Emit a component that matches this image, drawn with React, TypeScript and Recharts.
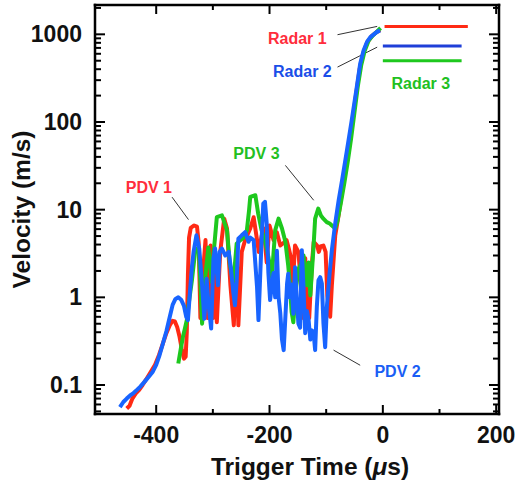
import { LineChart, Line, XAxis, YAxis, ReferenceLine, ReferenceDot } from 'recharts';

// trigger time (us), velocity (m/s)
const pdv1: [number, number][] = [
  [-452, 0.054], [-447, 0.058], [-442, 0.07], [-436, 0.08], [-430, 0.088], [-424, 0.1], [-418, 0.115],
  [-410, 0.14], [-402, 0.17], [-395, 0.22], [-388, 0.3], [-382, 0.39], [-376, 0.48], [-371, 0.54],
  [-367, 0.53], [-363, 0.46], [-359, 0.36], [-355, 0.26], [-351, 0.2], [-348, 0.21], [-346, 0.4],
  [-344, 1.8], [-342, 4.8], [-339, 6.2], [-333, 6.6], [-328, 6.4], [-325, 4.2], [-322, 0.58],
  [-319, 1.37], [-313, 4.5], [-309, 0.58], [-304, 3.9], [-300, 0.58], [-296, 2.1], [-293, 0.52],
  [-287, 3.3], [-280, 7.9], [-275, 6.1], [-269, 1.37], [-263, 0.48], [-258, 3.3], [-255, 0.48],
  [-249, 3.3], [-243, 4.5], [-234, 6.1], [-228, 8.2], [-222, 4.5], [-219, 3.3], [-214, 5], [-210, 6.1],
  [-205, 2.5], [-200, 6.6], [-193, 4.5], [-187, 5.5], [-181, 3.9], [-175, 4.2], [-170, 4.5], [-166, 3.6],
  [-162, 2.8], [-159, 1.37], [-155, 3.9], [-149, 3.3], [-143, 1.05], [-140, 0.58], [-137, 2.8],
  [-134, 0.68], [-130, 0.58], [-125, 2.5], [-122, 4.3], [-116, 3.9], [-113, 3.3], [-110, 3.8],
  [-105, 3.9], [-101, 3.3], [-98, 1.05], [-93, 0.6], [-90, 1.37], [-84, 5.1], [-78, 8.7], [-72, 16],
  [-64, 35], [-56, 80], [-48, 190], [-41, 400], [-35, 600], [-28, 800], [-20, 950], [-12, 1050], [-5, 1120],
];

const pdv2: [number, number][] = [
  [-464, 0.056], [-458, 0.064], [-452, 0.07], [-446, 0.076], [-440, 0.081], [-434, 0.088], [-428, 0.096],
  [-420, 0.11], [-412, 0.127], [-406, 0.142], [-400, 0.17], [-394, 0.22], [-388, 0.3], [-382, 0.41],
  [-376, 0.6], [-371, 0.82], [-366, 0.96], [-361, 1.0], [-356, 0.94], [-351, 0.8], [-347, 0.6],
  [-344, 0.55], [-340, 1.26], [-337, 2.2], [-334, 3.3], [-329, 5.1], [-324, 3.6], [-319, 1.37],
  [-315, 0.57], [-311, 1.63], [-308, 0.88], [-303, 0.44], [-299, 2.76], [-296, 3.6], [-291, 1.37],
  [-288, 3.3], [-284, 3.6], [-278, 3.0], [-272, 3.3], [-268, 2.1], [-264, 1.15], [-261, 0.81],
  [-258, 1.5], [-255, 4.66], [-249, 5.1], [-243, 5.55], [-237, 4.3], [-234, 4.8], [-228, 4.5],
  [-222, 1.3], [-219.5, 0.55], [-214, 4.5], [-211, 11.7], [-208, 12.3], [-205, 7], [-202, 1.9],
  [-199, 0.93], [-193, 1.9], [-190, 1.0], [-187, 3.4], [-184, 1.0], [-181, 0.66], [-178, 0.33],
  [-175, 0.25], [-172, 0.6], [-169, 1.44], [-167, 1.86], [-164, 1.0], [-161, 1.4], [-158, 0.65],
  [-155, 2.2], [-152, 1.0], [-149, 0.5], [-146, 0.45], [-143, 3.45], [-140, 1.3], [-137, 0.39],
  [-134, 0.7], [-131, 0.55], [-128, 0.33], [-125, 0.42], [-122, 0.38], [-119.5, 0.25], [-116.5, 0.78],
  [-113.6, 1.57], [-110.6, 1.7], [-107.6, 1.44], [-104.8, 0.5], [-101.8, 0.27], [-98.8, 0.78],
  [-94, 1.87], [-90, 3.45], [-84, 7.0], [-78, 12.8], [-72, 21.6], [-63.5, 47], [-55, 104], [-46, 250],
  [-40, 462], [-34, 655], [-28, 820], [-22, 930], [-11, 1060], [-5, 1110],
];

const pdv3: [number, number][] = [
  [-361, 0.176], [-357, 0.25], [-353, 0.35], [-349, 0.45], [-346, 0.55], [-342, 0.9], [-337, 1.56],
  [-331, 3.44], [-325, 3.7], [-322, 1.5], [-319, 0.5], [-314, 1.56], [-308, 3.7], [-302, 1.5],
  [-299, 3.0], [-293, 8.2], [-284, 8.6], [-275, 5.8], [-270, 2.4], [-264, 1.43], [-258, 4.1],
  [-252, 4.47], [-246, 4.8], [-240, 5.8], [-236, 10], [-234, 14], [-225, 14.6], [-220, 9], [-214, 5.8],
  [-208, 4.47], [-202, 2.9], [-196, 1.7], [-190, 5.8], [-184, 7.9], [-178, 6.1], [-172, 4.3],
  [-167, 2.3], [-164, 1.4], [-161, 0.68], [-158, 0.52], [-153, 1.3], [-149, 2.1], [-143, 2.5],
  [-140, 3.0], [-134, 1.37], [-131, 2.5], [-128, 1.05], [-122.5, 3.6], [-119.5, 7.9], [-114, 10.3],
  [-109, 8.5], [-105, 7.9], [-99, 7.2], [-93, 6.9], [-90, 6.6], [-84, 6.1], [-80, 7.5], [-74, 12],
  [-68, 20], [-62, 35], [-56, 65], [-50, 130], [-44, 260], [-38, 450], [-32, 650], [-25, 850],
  [-17, 980], [-10, 1080], [-4, 1180],
];

const radar1: [number, number][] = [[3, 1230], [150, 1230]];
const radar2: [number, number][] = [[0, 735], [139, 735]];
const radar3: [number, number][] = [[0, 500], [139, 500]];

const xMajor = [-400, -200, 0, 200];
const xMinor = [-300, -100, 100];
const yMajor = [0.1, 1, 10, 100, 1000];
const yMinor = [
  0.05, 0.06, 0.07, 0.08, 0.09, 0.2, 0.3, 0.4, 0.5, 0.6, 0.7, 0.8, 0.9,
  2, 3, 4, 5, 6, 7, 8, 9, 20, 30, 40, 50, 60, 70, 80, 90,
  200, 300, 400, 500, 600, 700, 800, 900, 2000,
];

const RED = '#ff2a14';
const GREEN = '#1ec81e';
const BLUE = '#1864ff';
const RADAR_BLUE = '#1f3fd8';

const notes = [
  { text: 'PDV 1', t: -413, v: 18.2, color: '#ff2d3c' },
  { text: 'PDV 3', t: -223, v: 44, color: '#22c022' },
  { text: 'PDV 2', t: 26, v: 0.143, color: '#1a5ef5' },
  { text: 'Radar 1', t: -151, v: 910, color: '#ff2d3c' },
  { text: 'Radar 2', t: -142, v: 378, color: '#1a4ee8' },
  { text: 'Radar 3', t: 67, v: 275, color: '#22c022' },
];

const leaders: [number, number, number, number][] = [
  [-372, 13.9, -343, 7.7],
  [-172, 32, -122, 12.8],
  [-87, 0.25, -40, 0.168],
  [-80, 990, -10, 1231],
  [-80, 423, -10, 714],
];

const X_DOMAIN: [number, number] = [-508, 205];
const Y_DOMAIN: [number, number] = [0.0467, 2160];
const FONT = "'Liberation Sans', Arial, Helvetica, sans-serif";
const rows = (pts: [number, number][]) => pts.map(([t, v]) => ({ t, v }));
const frame = { stroke: '#000', strokeWidth: 2.5, strokeLinecap: 'square' as const };
const tickText = { fontFamily: FONT, fontSize: 23, fontWeight: 700, fill: '#111' };

function leftTick(p: any) {
  const v = p.payload.value;
  const major = yMajor.includes(v);
  return (
    <g>
      <line x1={p.x} x2={p.x + (major ? 10 : 6)} y1={p.y} y2={p.y} stroke="#000" strokeWidth={2} />
      {major && (
        <text x={p.x - 13} y={p.y + 8} textAnchor="end" style={tickText}>
          {String(v)}
        </text>
      )}
    </g>
  );
}

function rightTick(p: any) {
  const major = yMajor.includes(p.payload.value);
  return <line x1={p.x} x2={p.x - (major ? 10 : 6)} y1={p.y} y2={p.y} stroke="#000" strokeWidth={2} />;
}

function bottomTick(p: any) {
  const v = p.payload.value;
  const major = xMajor.includes(v);
  return (
    <g>
      <line x1={p.x} x2={p.x} y1={p.y} y2={p.y - (major ? 9 : 5)} stroke="#000" strokeWidth={2} />
      {major && (
        <text x={p.x} y={p.y + 29} textAnchor="middle" style={tickText}>
          {String(v)}
        </text>
      )}
    </g>
  );
}

function topTick(p: any) {
  const major = xMajor.includes(p.payload.value);
  return <line x1={p.x} x2={p.x} y1={p.y} y2={p.y + (major ? 9 : 5)} stroke="#000" strokeWidth={2} />;
}

function xTitle(p: any) {
  const vb = p.viewBox || { x: 95, y: 414, width: 404, height: 69 };
  return (
    <text x={vb.x + vb.width / 2 + 13} y={vb.y + 61} textAnchor="middle"
      style={{ fontFamily: FONT, fontSize: 24.5, fontWeight: 700, fill: '#111' }}>
      Trigger Time (<tspan fontStyle="italic">μ</tspan>s)
    </text>
  );
}

function yTitle(p: any) {
  const vb = p.viewBox || { x: 0, y: 5, width: 95, height: 409 };
  const cy = vb.y + vb.height / 2;
  return (
    <text x={30} y={cy} textAnchor="middle" transform={`rotate(-90 30 ${cy})`}
      style={{ fontFamily: FONT, fontSize: 24.5, fontWeight: 700, fill: '#111' }}>
      Velocity (m/s)
    </text>
  );
}

export default function App() {
  const axisIds = { xAxisId: 'b', yAxisId: 'l' };
  const pdvLine = { type: 'linear' as const, dataKey: 'v', dot: false, strokeWidth: 4, strokeLinejoin: 'round' as const, isAnimationActive: false };
  return (
    <div style={{ position: 'absolute', left: 0, top: 0, width: 517, height: 483, background: '#fff' }}>
      <LineChart width={517} height={483} margin={{ top: 4, right: 17, bottom: 0, left: 0 }}>
        <XAxis xAxisId="b" dataKey="t" type="number" domain={X_DOMAIN} allowDataOverflow
          ticks={[...xMajor, ...xMinor]} interval={0} height={69} tickSize={0} tickMargin={0}
          tick={bottomTick} tickLine={false} axisLine={frame} label={xTitle} />
        <XAxis xAxisId="t" orientation="top" dataKey="t" type="number" domain={X_DOMAIN} allowDataOverflow
          ticks={[...xMajor, ...xMinor]} interval={0} height={1} tickSize={0} tickMargin={0}
          tick={topTick} tickLine={false} axisLine={frame} />
        <YAxis yAxisId="l" type="number" scale="log" domain={Y_DOMAIN} allowDataOverflow
          ticks={[...yMajor, ...yMinor]} interval={0} width={95} tickSize={0} tickMargin={0}
          tick={leftTick} tickLine={false} axisLine={frame} label={yTitle} />
        <YAxis yAxisId="r" orientation="right" type="number" scale="log" domain={Y_DOMAIN} allowDataOverflow
          ticks={[...yMajor, ...yMinor]} interval={0} width={1} tickSize={0} tickMargin={0}
          tick={rightTick} tickLine={false} axisLine={frame} />

        {leaders.map(([t1, v1, t2, v2], i) => (
          <ReferenceLine key={'l' + i} {...axisIds} ifOverflow="visible"
            segment={[{ x: t1, y: v1 }, { x: t2, y: v2 }]} stroke="#333" strokeWidth={1} />
        ))}

        <Line {...axisIds} {...pdvLine} data={rows(pdv1)} stroke={RED} />
        <Line {...axisIds} {...pdvLine} data={rows(pdv3)} stroke={GREEN} />
        <Line {...axisIds} {...pdvLine} data={rows(pdv2)} stroke={BLUE} />

        <Line {...axisIds} type="linear" dataKey="v" data={rows(radar1)} stroke={RED} strokeWidth={3} dot={false} isAnimationActive={false} />
        <Line {...axisIds} type="linear" dataKey="v" data={rows(radar2)} stroke={RADAR_BLUE} strokeWidth={3} dot={false} isAnimationActive={false} />
        <Line {...axisIds} type="linear" dataKey="v" data={rows(radar3)} stroke={GREEN} strokeWidth={3} dot={false} isAnimationActive={false} />

        {notes.map((n) => (
          <ReferenceDot key={n.text} {...axisIds} x={n.t} y={n.v} r={0} ifOverflow="visible"
            shape={(p: any) => (
              <text x={p.cx} y={p.cy + 6} textAnchor="middle"
                style={{ fontFamily: FONT, fontSize: 16, fontWeight: 700, fill: n.color }}>
                {n.text}
              </text>
            )} />
        ))}
      </LineChart>
    </div>
  );
}
